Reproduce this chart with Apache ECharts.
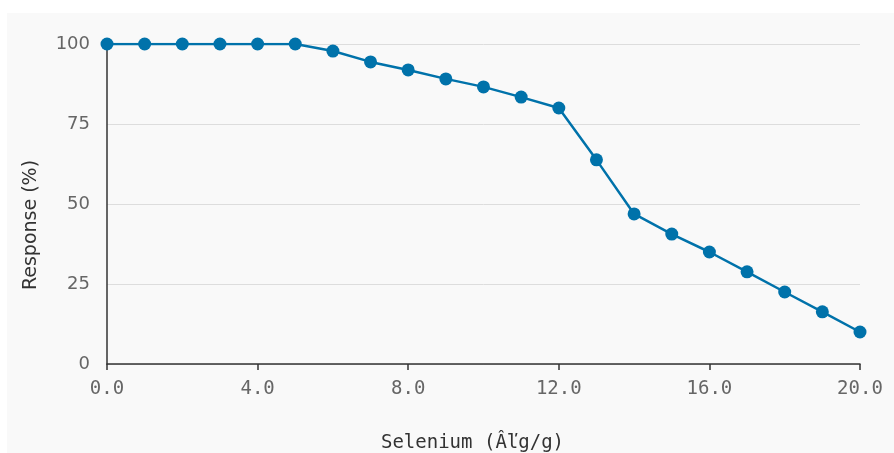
<!DOCTYPE html>
<html>
<head>
<meta charset="utf-8">
<script src="https://cdn.jsdelivr.net/npm/echarts@6/dist/echarts.min.js"></script>
<style>
	body { margin: 0; background: #ffffff; }
	#wrap { position: absolute; left: 7px; top: 13px; width: 887px; height: 440px; }
</style>
</head>
<body>
<div id="wrap"></div>
<script>
// selenium dose (x) and response in % (y)
var seleniumDose = [0, 1, 2, 3, 4, 5, 6, 7, 8, 9, 10, 11, 12, 13, 14, 15, 16, 17, 18, 19, 20];
var responsePct = [100, 100, 100, 100, 100, 100, 97.8, 94.4, 91.9, 89.1, 86.6, 83.4, 80.0, 63.8, 46.9, 40.6, 35.0, 28.8, 22.5, 16.3, 10.0];
var xTicks = [0, 4, 8, 12, 16, 20];
var yTicks = [0, 25, 50, 75, 100];

var chart = echarts.init(document.getElementById('wrap'));

var points = [];
for (var i = 0; i < seleniumDose.length; i++) {
	points.push([seleniumDose[i], responsePct[i]]);
}

var option = {
	backgroundColor: '#f9f9f9',
	animation: false,
	grid: { left: 100, right: 34, top: 31, bottom: 89, outerBoundsMode: 'none', containLabel: false },
	xAxis: {
		type: 'value',
		min: xTicks[0],
		max: xTicks[xTicks.length - 1],
		interval: xTicks[1] - xTicks[0],
		name: 'Selenium (Âľg/g)',
		nameLocation: 'middle',
		nameGap: 70,
		nameTextStyle: { fontFamily: 'DejaVu Sans Mono', fontSize: 19, color: '#333', padding: [0, 22, 0, 0] },
		axisLine: { show: true, lineStyle: { color: '#333', width: 1.5 } },
		axisTick: { show: true, length: 6, lineStyle: { color: '#333', width: 1.5 } },
		axisLabel: {
			margin: 16,
			fontFamily: 'DejaVu Sans Mono',
			fontSize: 19,
			color: '#666',
			formatter: function (v) { return v.toFixed(1); }
		},
		splitLine: { show: false }
	},
	yAxis: {
		type: 'value',
		min: yTicks[0],
		max: yTicks[yTicks.length - 1],
		interval: yTicks[1] - yTicks[0],
		name: 'Response (%)',
		nameLocation: 'middle',
		nameGap: 66,
		nameTextStyle: { fontFamily: 'DejaVu Sans', fontSize: 19, color: '#333', padding: [0, 42, 0, 0] },
		axisLine: { show: true, lineStyle: { color: '#333', width: 1.5 } },
		axisTick: { show: false },
		axisLabel: { margin: 17, fontFamily: 'DejaVu Sans', fontSize: 18, color: '#666' },
		splitLine: { show: true, lineStyle: { color: '#dddddd', width: 1 } }
	},
	series: [{
		type: 'line',
		data: points,
		symbol: 'circle',
		symbolSize: 13,
		lineStyle: { color: '#0072aa', width: 2.5 },
		itemStyle: { color: '#0072aa' }
	}]
};

chart.setOption(option);
</script>
</body>
</html>
